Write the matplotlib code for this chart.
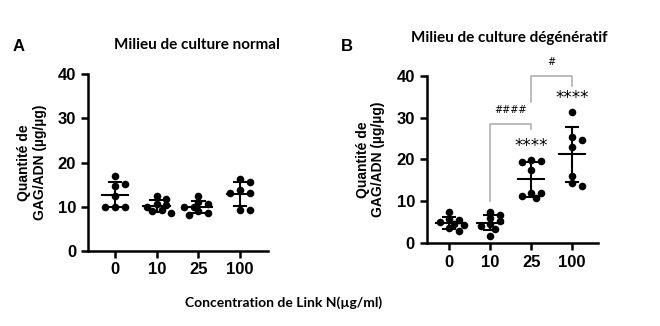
import numpy as np
import matplotlib
matplotlib.use("Agg")
import matplotlib.pyplot as plt

# Link N concentrations (ug/ml)
doses = ["0", "10", "25", "100"]

# GAG/DNA ratio per well, normal culture medium
normal_0 = [16.9, 14.7, 15.1, 12.5, 10.0, 10.0, 10.0]
normal_10 = [12.4, 11.8, 10.5, 10.3, 10.0, 9.2, 9.0, 8.5]
normal_25 = [12.5, 11.0, 10.5, 10.0, 10.0, 9.0, 8.5, 8.2]
normal_100 = [16.3, 15.5, 13.7, 13.0, 13.0, 9.2, 9.2]

# GAG/DNA ratio per well, degenerative culture medium
degen_0 = [7.3, 5.8, 5.5, 5.0, 4.6, 4.2, 3.6, 2.8]
degen_10 = [7.5, 6.8, 6.0, 5.3, 4.5, 4.0, 3.4, 1.7]
degen_25 = [19.9, 19.6, 19.4, 17.5, 12.0, 11.9, 11.2, 10.7]
degen_100 = [31.4, 25.3, 24.6, 23.0, 16.0, 14.3, 13.6]

stars_vs_ctrl = ["", "", "****", "****"]
brackets = [(1, 2, "####"), (2, 3, "#")]

fig = plt.figure(figsize=(6.6, 3.26), dpi=100)
bold_sans = ["Liberation Sans", "DejaVu Sans"]
cal = ["Lato", "DejaVu Sans"]


def swarm(ax, x0, vals, diam_px):
    # spread dots sideways so they don't pile up (loose beeswarm)
    ax.figure.canvas.draw()
    tr = ax.transData
    placed = []
    xs = []
    step = diam_px * 0.8
    for v in vals:
        px, py = tr.transform((x0, v))
        k = 0
        while True:
            offs = [0] if k == 0 else [k * step, -k * step]
            ok = None
            for o in offs:
                if all((px + o - qx) ** 2 + (py - qy) ** 2 >= diam_px ** 2
                       for qx, qy in placed):
                    ok = o
                    break
            if ok is not None:
                placed.append((px + ok, py))
                xs.append(tr.inverted().transform((px + ok, py))[0])
                break
            k += 1
    return xs


def panel(rect, groups, xlim, stars=None, brk=None):
    ax = fig.add_axes(rect)
    ax.set_xlim(*xlim)
    ax.set_ylim(0, 40)
    for s in ["top", "right"]:
        ax.spines[s].set_visible(False)
    for s in ["left", "bottom"]:
        ax.spines[s].set_linewidth(1.8)
    ax.set_yticks([0, 10, 20, 30, 40])
    ax.set_xticks(range(len(doses)))
    ax.set_xticklabels(doses)
    ax.tick_params(width=1.8, length=5, labelsize=12)
    for t in ax.get_xticklabels() + ax.get_yticklabels():
        t.set_fontfamily(bold_sans)
        t.set_fontweight("bold")
    ax.set_ylabel("Quantité de\nGAG/ADN (µg/µg)", family=bold_sans,
                  fontweight="bold", fontsize=10, labelpad=8, linespacing=1.15)
    for i, vals in enumerate(groups):
        vals = np.array(vals)
        xs = swarm(ax, i, vals, 6.0)
        ax.scatter(xs, vals, s=30, color="black", zorder=3, linewidths=0)
        m, sd = vals.mean(), vals.std(ddof=1)
        ax.plot([i - 0.32, i + 0.32], [m, m], color="black", lw=1.5, zorder=4)
        ax.plot([i, i], [m - sd, m + sd], color="black", lw=1.5, zorder=4)
        for y in (m - sd, m + sd):
            ax.plot([i - 0.15, i + 0.15], [y, y], color="black", lw=1.5, zorder=4)
        if stars and stars[i]:
            ax.text(i, vals.max() + 1.2, stars[i], ha="center", va="bottom",
                    fontsize=12, family="DejaVu Sans")
    if brk:
        for (a, b, lab), (ya, ytop, yb) in zip(brk, [(10.0, 28.5, 27.2), (33.8, 40.0, 37.5)]):
            ax.plot([a, a, b, b], [ya, ytop, ytop, yb], color="#a9a9a9", lw=1.1,
                    clip_on=False)
            ax.text((a + b) / 2, ytop + 2.0, lab, ha="center", va="bottom",
                    fontsize=7, family="DejaVu Sans", clip_on=False)
    return ax


axA = panel([0.1333, 0.231, 0.2727, 0.541],
            [normal_0, normal_10, normal_25, normal_100], (-0.65, 3.67))
axB = panel([0.6465, 0.2546, 0.2595, 0.513],
            [degen_0, degen_10, degen_25, degen_100], (-0.55, 3.63),
            stars=stars_vs_ctrl, brk=brackets)

fig.text(0.299, 0.862, "Milieu de culture normal", ha="center", va="center",
         family=cal, fontweight="bold", fontsize=11)
fig.text(0.771, 0.884, "Milieu de culture dégénératif", ha="center", va="center",
         family=cal, fontweight="bold", fontsize=11)
fig.text(0.028, 0.858, "A", ha="center", va="center", family=bold_sans,
         fontweight="bold", fontsize=12)
fig.text(0.525, 0.858, "B", ha="center", va="center", family=bold_sans,
         fontweight="bold", fontsize=12)
fig.text(0.429, 0.072, "Concentration de Link N(µg/ml)", ha="center", va="center",
         family=cal, fontweight="bold", fontsize=10)

fig.savefig("out.png", dpi=100, facecolor="white")
